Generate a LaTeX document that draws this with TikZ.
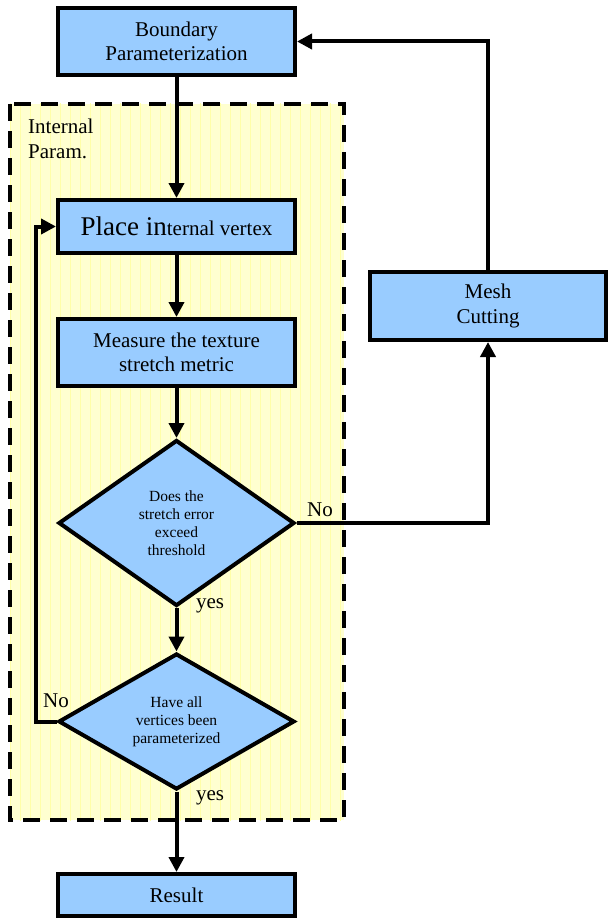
\documentclass[tikz,border=0pt]{standalone}
\usepackage{fontspec}
\setmainfont{Liberation Serif}
\usetikzlibrary{shapes.geometric,arrows.meta}
\definecolor{boxblue}{HTML}{99CCFF}
\definecolor{regionyellow}{HTML}{FFFFD0}
\definecolor{gridyellow}{HTML}{FFFFA8}
\tikzset{
  procbox/.style={draw=black, line width=4pt, fill=boxblue, minimum width=237pt, inner sep=0pt, align=center, font=\fontsize{21}{24.5}\selectfont},
  decbox/.style={draw=black, line width=4pt, fill=boxblue, diamond, shape aspect=1.5, inner sep=0pt, align=center, font=\fontsize{15.5}{18}\selectfont},
  flow/.style={line width=4pt, -{Triangle[length=15pt,width=15pt]}},
  lbl/.style={font=\fontsize{21}{24.5}\selectfont, inner sep=0pt}
}
\begin{document}
\begin{tikzpicture}[x=1pt,y=-1pt]
\useasboundingbox (0,0) rectangle (609,923);
% region
\fill[regionyellow] (10,104) rectangle (344,820);
\begin{scope}
\clip (10,104) rectangle (344,820);
\draw[gridyellow, line width=0.6pt, step=10] (0,100) grid (350,830);
\end{scope}
\draw[line width=4pt, dash pattern=on 17pt off 10pt] (10,104) rectangle (344,820);
\node[lbl, anchor=north west, align=left] (intlbl) at (28,119) {Internal\\Param.};
% nodes
\node[procbox, minimum height=67pt] (bound) at (176.5,41.5) {Boundary\\Parameterization};
\node[procbox, minimum height=53pt] (place) at (176.5,226.5) {{\fontsize{27}{30}\selectfont Place in}ternal vertex};
\node[procbox, minimum height=67pt] (meas) at (176.5,352.5) {Measure the texture\\stretch metric};
\node[decbox, minimum width=236pt, minimum height=166pt] (d1) at (176.5,523) {Does the\\stretch error\\exceed\\threshold};
\node[decbox, minimum width=236pt, minimum height=136pt] (d2) at (176.5,721.5) {Have all\\vertices been\\parameterized};
\node[procbox, minimum height=42pt] (res) at (176.5,895) {Result};
\node[procbox, minimum width=236pt, minimum height=68pt] (mesh) at (488,306) {Mesh\\Cutting};
% connectors
\draw[flow] (bound.south) -- (place.north);
\draw[flow] (place.south) -- (meas.north);
\draw[flow] (meas.south) -- (d1.north);
\draw[flow] (d1.south) -- (d2.north);
\draw[flow] (d2.south) -- (res.north);
\draw[flow] (d1.east) -| (mesh.south);
\draw[flow] (mesh.north) |- (bound.east);
\coordinate (loopx) at (36,0);
\draw[flow] (d2.west) -| (loopx |- place.west) -- (place.west);
% labels
\node[lbl] (no1) at (320,510) {No};
\node[lbl] (yes1) at (210,606) {yes};
\node[lbl] (no2) at (56,701) {No};
\node[lbl] (yes2) at (210,798) {yes};
\end{tikzpicture}
\end{document}
